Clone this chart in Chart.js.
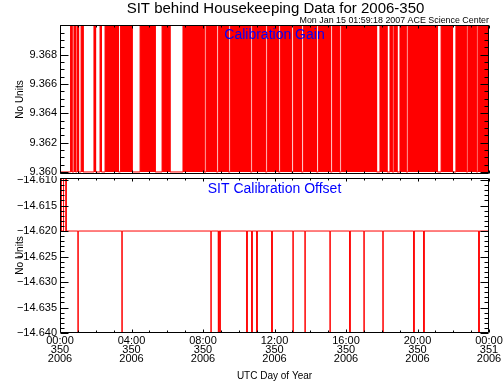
<!DOCTYPE html>
<html><head><meta charset="utf-8">
<script src="https://cdn.jsdelivr.net/npm/chart.js@4/dist/chart.umd.min.js"></script>
<style>
html,body{margin:0;padding:0;background:#fff;}
#wrap{position:relative;width:503px;height:382px;overflow:hidden;background:#fff;}
#topc{position:absolute;left:0;top:0;}
#botc{position:absolute;left:0;top:176px;}
</style></head><body>
<div id="wrap">
<canvas id="topc" width="503" height="178"></canvas>
<canvas id="botc" width="503" height="206"></canvas>
</div>
<script>
// ---------- texts ----------
const titleText = 'SIT behind Housekeeping Data for 2006-350';
const stampText = 'Mon Jan 15 01:59:18 2007 ACE Science Center';
const gainPanelText = 'Calibration Gain';
const offsetPanelText = 'SIT Calibration Offset';
const yAxisTitle = 'No Units';
const xAxisTitle = 'UTC Day of Year';

// ---------- x axis (hours of day 350) ----------
const xTickHours = [0, 4, 8, 12, 16, 20, 24];
const xTickLabels = [
  ['00:00', '350', '2006'], ['04:00', '350', '2006'], ['08:00', '350', '2006'],
  ['12:00', '350', '2006'], ['16:00', '350', '2006'], ['20:00', '350', '2006'],
  ['00:00', '351', '2006']
];

// ---------- top panel: Calibration Gain ----------
const gainTicks = [9.360, 9.362, 9.364, 9.366, 9.368];
const gainTickLabels = ['9.360', '9.362', '9.364', '9.366', '9.368'];
const gainRange = [9.35986, 9.37003];
const gainLow = 9.3600;
const gainHigh = 9.3720;
// intervals (hours) where the gain sits at its high state (off scale)
const gainHighStart = [0.59, 0.78, 0.95, 1.18, 1.90, 2.24, 2.52, 3.38, 4.48, 5.71, 6.88, 8.17, 8.85, 9.52, 10.75, 11.59, 12.32, 13.05, 13.61, 14.45, 15.23, 15.73, 17.90, 18.46, 18.68, 19.02, 19.47, 21.32, 22.15, 22.82, 23.38];
const gainHighEnd   = [0.67, 0.87, 1.04, 1.29, 1.99, 2.32, 3.27, 4.03, 5.32, 6.15, 8.06, 8.74, 9.41, 10.64, 11.48, 12.21, 12.94, 13.50, 14.34, 15.12, 15.62, 17.71, 18.29, 18.58, 18.85, 19.36, 21.12, 21.96, 22.72, 23.28, 23.97];

// ---------- bottom panel: SIT Calibration Offset ----------
const offsetTicks = [-14.640, -14.635, -14.630, -14.625, -14.620, -14.615, -14.610];
const offsetTickLabels = ['\u221214.640', '\u221214.635', '\u221214.630', '\u221214.625', '\u221214.620', '\u221214.615', '\u221214.610'];
const offsetRange = [-14.640, -14.6096];
const offsetBase = -14.620;
const offsetHigh = -14.605;
const offsetDip = -14.650;
const offsetHighStart = [0.00, 0.20];
const offsetHighEnd = [0.06, 0.34];
const offsetDipHours = [1.01, 3.47, 8.45, 8.86, 8.95, 10.46, 10.74, 11.02, 11.86, 13.04, 13.71, 15.11, 16.22, 17.01, 18.07, 19.80, 20.36, 23.44];

// ---------- build point tables ----------
const gainPoints = [{x: 0, y: gainLow}];
gainHighStart.forEach((s, i) => {
  const e = gainHighEnd[i];
  gainPoints.push({x: s, y: gainLow}, {x: s, y: gainHigh}, {x: e, y: gainHigh}, {x: e, y: gainLow});
});
gainPoints.push({x: 24, y: gainLow});

const offsetPoints = [];
offsetHighStart.forEach((s, i) => {
  const e = offsetHighEnd[i];
  if (s > 0) offsetPoints.push({x: s, y: offsetBase});
  offsetPoints.push({x: s, y: offsetHigh}, {x: e, y: offsetHigh}, {x: e, y: offsetBase});
});
offsetDipHours.forEach(t => {
  offsetPoints.push({x: t - 0.008, y: offsetBase}, {x: t, y: offsetDip}, {x: t + 0.008, y: offsetBase});
});
offsetPoints.push({x: 24, y: offsetBase});

// ---------- plugins ----------
const FONT = '"Liberation Sans", Arial, Helvetica, sans-serif';
Chart.defaults.font.family = FONT;
Chart.defaults.color = '#000';

const frameAndTicks = {
  id: 'frameAndTicks',
  afterDatasetsDraw(chart, args, o) {
    const {ctx, chartArea: a} = chart;
    const xs = chart.scales.x, ys = chart.scales.y;
    const L = Math.round(a.left) + 0.5, R = Math.round(a.right) - 0.5;
    const T = Math.round(a.top) + 0.5, B = Math.round(a.bottom) - 0.5;
    ctx.save();
    ctx.strokeStyle = '#000';
    ctx.lineWidth = 1;
    ctx.beginPath();
    ctx.rect(L, T, R - L, B - T);
    for (let h = 0; h <= 24; h++) {
      const px = Math.round(xs.getPixelForValue(h)) + 0.5;
      const len = xTickHours.includes(h) ? o.xMajorLen : o.xMinorLen;
      ctx.moveTo(px, B); ctx.lineTo(px, B - len);
      ctx.moveTo(px, T); ctx.lineTo(px, T + len);
    }
    const n = Math.round((o.yTo - o.yFrom) / o.yStep);
    for (let i = 0; i <= n; i++) {
      const v = o.yFrom + i * o.yStep;
      const py = Math.round(ys.getPixelForValue(v)) + 0.5;
      const major = o.majors.some(m => Math.abs(m - v) < o.yStep / 10);
      const len = major ? o.yMajorLen : o.yMinorLen;
      ctx.moveTo(L, py); ctx.lineTo(L + len, py);
      ctx.moveTo(R, py); ctx.lineTo(R - len, py);
    }
    ctx.stroke();
    ctx.restore();
  }
};

const panelTexts = {
  id: 'panelTexts',
  afterDatasetsDraw(chart, args, o) {
    const ctx = chart.ctx;
    ctx.save();
    for (const t of o.items) {
      ctx.font = t.font;
      ctx.fillStyle = t.color;
      ctx.textAlign = t.align;
      ctx.textBaseline = 'alphabetic';
      ctx.fillText(t.text, t.x, t.y);
    }
    ctx.restore();
  }
};

function yScale(range, ticks, labels) {
  return {
    type: 'linear',
    min: range[0], max: range[1],
    afterBuildTicks: s => { s.ticks = ticks.map(v => ({value: v})); },
    afterFit: s => { s.width = 60; s.paddingTop = 0; s.paddingBottom = 0; },
    grid: {display: false, drawTicks: false},
    border: {display: false},
    ticks: {
      padding: 3,
      font: {size: 11, family: FONT},
      color: '#000',
      callback: (v, i) => labels[i]
    },
    title: {
      display: true, text: yAxisTitle, color: '#000',
      font: {size: 10, family: FONT, lineHeight: 1.2},
      padding: {top: 14, bottom: 0}
    }
  };
}

// ---------- top chart ----------
new Chart(document.getElementById('topc'), {
  type: 'line',
  data: {
    datasets: [{
      data: gainPoints,
      borderColor: '#ff0000',
      backgroundColor: '#ff0000',
      borderWidth: 1,
      pointRadius: 0,
      tension: 0,
      fill: {value: gainLow},
      clip: 0
    }]
  },
  options: {
    responsive: false,
    animation: false,
    events: [],
    layout: {padding: {left: 0, right: 14, top: 25, bottom: 4}},
    plugins: {
      legend: {display: false},
      tooltip: {enabled: false},
      frameAndTicks: {xMajorLen: 3, xMinorLen: 2, yFrom: 9.3600, yTo: 9.3700, yStep: 0.0005, majors: gainTicks, yMajorLen: 8, yMinorLen: 4},
      panelTexts: {items: [
        {text: titleText, x: 275.5, y: 13, font: '15px ' + FONT, color: '#000', align: 'center'},
        {text: stampText, x: 489, y: 23, font: '8.9px ' + FONT, color: '#000', align: 'right'},
        {text: gainPanelText, x: 274.5, y: 39, font: '14px ' + FONT, color: '#0000ff', align: 'center'}
      ]}
    },
    scales: {
      x: {type: 'linear', min: 0, max: 24, display: false},
      y: yScale(gainRange, gainTicks, gainTickLabels)
    }
  },
  plugins: [frameAndTicks, panelTexts]
});

// ---------- bottom chart ----------
new Chart(document.getElementById('botc'), {
  type: 'line',
  data: {
    datasets: [{
      data: offsetPoints,
      borderColor: '#ff0000',
      borderWidth: 1,
      pointRadius: 0,
      tension: 0,
      fill: false,
      clip: 0
    }]
  },
  options: {
    responsive: false,
    animation: false,
    events: [],
    layout: {padding: {left: 0, right: 14, top: 2, bottom: 0}},
    plugins: {
      legend: {display: false},
      tooltip: {enabled: false},
      frameAndTicks: {xMajorLen: 3, xMinorLen: 2, yFrom: -14.640, yTo: -14.610, yStep: 0.001, majors: offsetTicks, yMajorLen: 8, yMinorLen: 4},
      panelTexts: {items: [
        {text: offsetPanelText, x: 274.5, y: 193 - 176, font: '14px ' + FONT, color: '#0000ff', align: 'center'}
      ]}
    },
    scales: {
      x: {
        type: 'linear', min: 0, max: 24,
        afterBuildTicks: s => { s.ticks = xTickHours.map(v => ({value: v})); },
        afterFit: s => { s.height = 49; s.paddingLeft = 0; s.paddingRight = 0; },
        grid: {display: false, drawTicks: false},
        border: {display: false},
        ticks: {
          padding: 3, autoSkip: false, maxRotation: 0, minRotation: 0,
          font: {size: 11, family: FONT, lineHeight: '9.2px'},
          color: '#000',
          callback: (v, i) => xTickLabels[i]
        },
        title: {
          display: true, text: xAxisTitle, color: '#000',
          font: {size: 10, family: FONT, lineHeight: 1.2},
          padding: {top: 0, bottom: 0}
        }
      },
      y: yScale(offsetRange, offsetTicks, offsetTickLabels)
    }
  },
  plugins: [frameAndTicks, panelTexts]
});
</script>
</body></html>
